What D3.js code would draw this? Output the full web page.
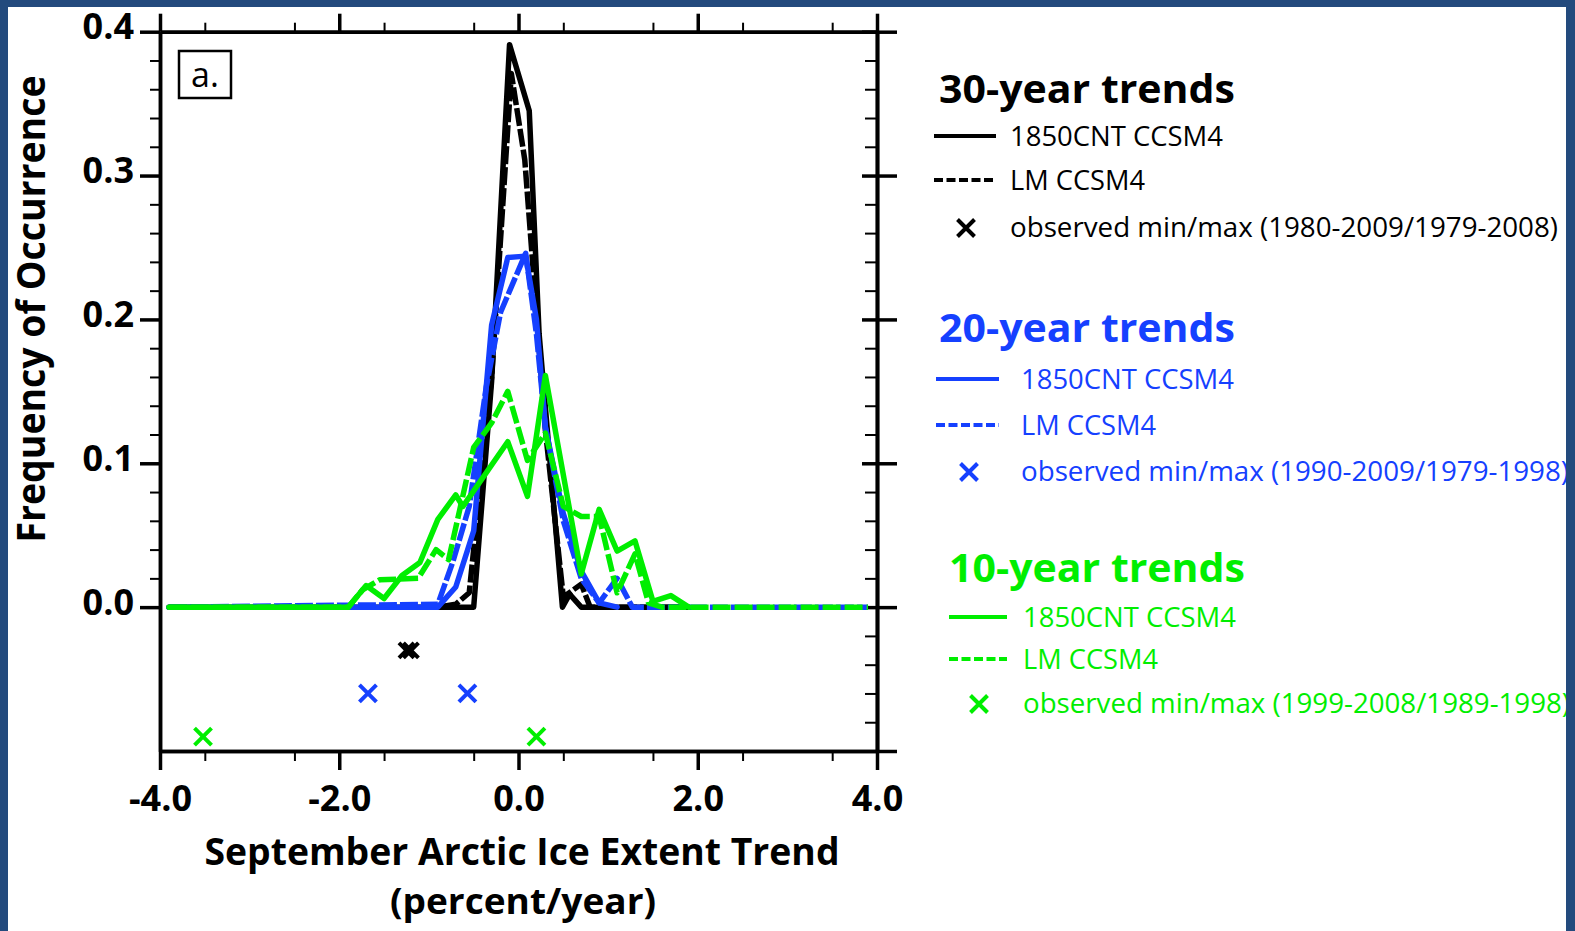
<!DOCTYPE html>
<html>
<head>
<meta charset="utf-8">
<script src="https://cdn.jsdelivr.net/npm/d3@7"></script>
<style>
  html, body { margin: 0; padding: 0; background: #fff; }
  svg { display: block; }
  text { font-family: "Open Sans", "Noto Sans", sans-serif; }
</style>
</head>
<body>
<svg id="chart" width="1575" height="931"></svg>
<script>
// trend (percent/year) and frequency of occurrence
const blackSolidX = [-3.9, -0.5, -0.3, -0.1, 0.12, 0.23, 0.49, 0.57, 0.7, 1.9];
const blackSolidY = [0, 0, 0.157, 0.391, 0.345, 0.19, 0, 0.009, 0, 0];
const blackDashX = [-3.9, -0.9, -0.7, -0.55, -0.3, -0.08, 0.07, 0.3, 0.5, 0.7, 0.8, 1.9];
const blackDashY = [0, 0, 0.002, 0.01, 0.16, 0.371, 0.311, 0.123, 0.007, 0.016, 0, 0];
const blueSolidX = [-3.9, -0.9, -0.7, -0.5, -0.3, -0.12, 0.08, 0.2, 0.3, 0.5, 0.7, 0.9, 1.1];
const blueSolidY = [0, 0, 0.014, 0.053, 0.196, 0.243, 0.244, 0.2, 0.125, 0.065, 0.025, 0.003, 0];
const blueDashX = [-3.9, -0.9, -0.73, -0.55, -0.36, -0.2, 0.08, 0.2, 0.3, 0.5, 0.7, 0.9, 1.1, 1.27, 3.9];
const blueDashY = [0, 0.002, 0.032, 0.07, 0.153, 0.205, 0.246, 0.19, 0.125, 0.06, 0.02, 0.003, 0.02, 0, 0];
const greenSolidX = [-3.9, -1.9, -1.7, -1.5, -1.3, -1.1, -0.9, -0.7, -0.62, -0.12, 0.1, 0.3, 0.7, 0.9, 1.1, 1.3, 1.5, 1.7, 1.9];
const greenSolidY = [0, 0, 0.015, 0.006, 0.022, 0.031, 0.061, 0.078, 0.07, 0.115, 0.077, 0.161, 0.023, 0.068, 0.039, 0.046, 0.004, 0.008, 0];
const greenDashX = [-3.9, -1.9, -1.74, -1.55, -1.12, -0.92, -0.78, -0.5, -0.3, -0.12, 0.1, 0.3, 0.5, 0.7, 0.9, 1.1, 1.3, 1.45, 1.6, 3.9];
const greenDashY = [0, 0, 0.012, 0.019, 0.02, 0.04, 0.033, 0.111, 0.128, 0.15, 0.102, 0.121, 0.07, 0.063, 0.063, 0.01, 0.037, 0.003, 0, 0];

// observed min/max trends, plotted below zero
const obsBlackX = [-1.25, -1.2];
const obsBlueX = [-1.68, -0.57];
const obsGreenX = [-3.52, 0.2];
const obsRowY = [-0.03, -0.06, -0.09];

const xTicks = [-4, -2, 0, 2, 4];
const yTicks = [0, 0.1, 0.2, 0.3, 0.4];

const groupTitles = ["30-year trends", "20-year trends", "10-year trends"];
const groupColors = ["#000000", "#1540ff", "#00ee00"];
const itemLabels = ["1850CNT CCSM4", "LM CCSM4"];
const obsLabels = [
    "observed min/max (1980-2009/1979-2008)",
    "observed min/max (1990-2009/1979-1998)",
    "observed min/max (1999-2008/1989-1998)"
];

const svg = d3.select("#chart");
svg.append("rect").attr("width", 1575).attr("height", 931).attr("fill", "#fff");

const x = d3.scaleLinear().domain([-4, 4]).range([160, 877]);
const y = d3.scaleLinear().domain([-0.1, 0.4]).range([751, 31.7]);

const fmt = d => d.toFixed(1);
const notMajor = v => Math.abs(v * 10 - Math.round(v * 10)) > 1e-6;
const xMinor = d3.range(-3.5, 4, 1);
const yMinorPos = d3.range(1, 20).map(i => i * 0.02).filter(notMajor);
const yMinorAll = d3.range(-4, 20).map(i => i * 0.02).filter(notMajor);

function styleAxis(g, width) {
    g.select(".domain").attr("stroke", "#000").attr("stroke-width", 3.5);
    g.selectAll(".tick line").attr("stroke", "#000").attr("stroke-width", width);
    g.selectAll("text").style("font-size", "36px").style("font-weight", "bold").attr("fill", "#000");
}

// bottom
svg.append("g").attr("transform", "translate(0,751)")
    .call(d3.axisBottom(x).tickValues(xMinor).tickSize(10).tickSizeOuter(0).tickFormat(""))
    .call(g => styleAxis(g, 2));
svg.append("g").attr("transform", "translate(0,751)")
    .call(d3.axisBottom(x).tickValues(xTicks).tickSize(19).tickPadding(15).tickSizeOuter(0).tickFormat(fmt))
    .call(g => styleAxis(g, 3.5));
// top
svg.append("g").attr("transform", "translate(0,31.7)")
    .call(d3.axisTop(x).tickValues(xMinor).tickSize(9).tickSizeOuter(0).tickFormat(""))
    .call(g => styleAxis(g, 2));
svg.append("g").attr("transform", "translate(0,31.7)")
    .call(d3.axisTop(x).tickValues(xTicks).tickSize(18).tickSizeOuter(0).tickFormat(""))
    .call(g => styleAxis(g, 3.5));
// left
svg.append("g").attr("transform", "translate(160,0)")
    .call(d3.axisLeft(y).tickValues(yMinorPos).tickSize(10).tickSizeOuter(0).tickFormat(""))
    .call(g => styleAxis(g, 2));
svg.append("g").attr("transform", "translate(160,0)")
    .call(d3.axisLeft(y).tickValues(yTicks).tickSize(20).tickPadding(6).tickSizeOuter(0).tickFormat(fmt))
    .call(g => styleAxis(g, 3.5))
    .call(g => g.selectAll("text").attr("dy", "0.2em"));
// right
svg.append("g").attr("transform", "translate(877,0)")
    .call(d3.axisRight(y).tickValues(yMinorAll).tickSize(-12).tickSizeOuter(0).tickFormat(""))
    .call(g => styleAxis(g, 2));
svg.append("g").attr("transform", "translate(877,0)")
    .call(d3.axisRight(y).tickValues([-0.1].concat(yTicks)).tickSize(20).tickSizeOuter(0).tickFormat(""))
    .call(g => styleAxis(g, 3.5));
svg.append("g").attr("transform", "translate(877,0)")
    .call(d3.axisRight(y).tickValues(yTicks).tickSize(-15).tickSizeOuter(0).tickFormat(""))
    .call(g => styleAxis(g, 3.5));

// curves
const line = d3.line().x(d => x(d[0])).y(d => y(d[1]));
const curves = [
    { xs: blackSolidX, ys: blackSolidY, color: groupColors[0], dash: null },
    { xs: blackDashX, ys: blackDashY, color: groupColors[0], dash: "18,3" },
    { xs: blueSolidX, ys: blueSolidY, color: groupColors[1], dash: null },
    { xs: blueDashX, ys: blueDashY, color: groupColors[1], dash: "18,3" },
    { xs: greenSolidX, ys: greenSolidY, color: groupColors[2], dash: null },
    { xs: greenDashX, ys: greenDashY, color: groupColors[2], dash: "18,4" }
];
svg.append("g").selectAll("path")
    .data(curves)
    .join("path")
    .attr("d", c => line(d3.zip(c.xs, c.ys)))
    .attr("fill", "none")
    .attr("stroke", c => c.color)
    .attr("stroke-width", 5.5)
    .attr("stroke-linejoin", "round")
    .attr("stroke-linecap", c => c.dash ? "butt" : "round")
    .attr("stroke-dasharray", c => c.dash);

// observed crosses
const cross = s => `M${-s},${-s}L${s},${s}M${-s},${s}L${s},${-s}`;
const obs = [obsBlackX, obsBlueX, obsGreenX].flatMap((xs, i) =>
    xs.map(v => ({ x: v, y: obsRowY[i], color: groupColors[i], size: i === 0 ? 7.5 : 8.5 })));
svg.append("g").selectAll("path")
    .data(obs)
    .join("path")
    .attr("transform", d => `translate(${x(d.x)},${y(d.y)})`)
    .attr("d", d => cross(d.size))
    .attr("stroke", d => d.color)
    .attr("stroke-width", 4)
    .attr("fill", "none");

// panel label
svg.append("rect").attr("x", 179).attr("y", 51).attr("width", 52).attr("height", 47)
    .attr("fill", "none").attr("stroke", "#000").attr("stroke-width", 2.5);
svg.append("text").attr("x", 205).attr("y", 87).attr("text-anchor", "middle")
    .style("font-size", "34px").text("a.");

// axis titles
svg.append("text")
    .attr("transform", "translate(45,309) rotate(-90)")
    .attr("text-anchor", "middle")
    .attr("textLength", 467).attr("lengthAdjust", "spacingAndGlyphs")
    .style("font-size", "40px").style("font-weight", "bold")
    .text("Frequency of Occurrence");
svg.append("text").attr("x", 522).attr("y", 865).attr("text-anchor", "middle")
    .attr("textLength", 635).attr("lengthAdjust", "spacingAndGlyphs")
    .style("font-size", "37px").style("font-weight", "bold")
    .text("September Arctic Ice Extent Trend");
svg.append("text").attr("x", 523).attr("y", 914).attr("text-anchor", "middle")
    .attr("textLength", 266).attr("lengthAdjust", "spacingAndGlyphs")
    .style("font-size", "36px").style("font-weight", "bold")
    .text("(percent/year)");

// legend
const legendPos = [
    { hx: 939, hy: 103, s0: 934, s1: 996, tx: 1010, rows: [136, 180, 228], obsX: 966, obsEnd: 1558 },
    { hx: 939, hy: 342, s0: 936, s1: 999, tx: 1021, rows: [379, 425, 472], obsX: 969, obsEnd: 1569 },
    { hx: 949, hy: 582, s0: 949, s1: 1007, tx: 1023, rows: [617, 659, 704], obsX: 979, obsEnd: 1570 }
];
const lg = svg.append("g");
legendPos.forEach((p, i) => {
    const c = groupColors[i];
    lg.append("text").attr("x", p.hx).attr("y", p.hy).attr("fill", c)
        .attr("textLength", 296).attr("lengthAdjust", "spacingAndGlyphs")
        .style("font-size", "39px").style("font-weight", "bold")
        .text(groupTitles[i]);
    itemLabels.forEach((lab, j) => {
        lg.append("line").attr("x1", p.s0).attr("x2", p.s1)
            .attr("y1", p.rows[j]).attr("y2", p.rows[j])
            .attr("stroke", c).attr("stroke-width", 4)
            .attr("stroke-dasharray", j === 1 ? "9,3.5" : null);
        lg.append("text").attr("x", p.tx).attr("y", p.rows[j] + 9.5).attr("fill", c)
            .attr("textLength", j === 0 ? 213 : 135).attr("lengthAdjust", "spacingAndGlyphs")
            .style("font-size", "27px")
            .text(lab);
    });
    lg.append("path").attr("transform", `translate(${p.obsX},${p.rows[2]})`)
        .attr("d", cross(8.5)).attr("stroke", c).attr("stroke-width", 4).attr("fill", "none");
    lg.append("text").attr("x", p.tx).attr("y", p.rows[2] + 8.5).attr("fill", c)
        .attr("textLength", p.obsEnd - p.tx).attr("lengthAdjust", "spacingAndGlyphs")
        .style("font-size", "27px")
        .text(obsLabels[i]);
});

// dark blue frame
const frame = "#234a7d";
svg.append("rect").attr("x", 0).attr("y", 0).attr("width", 8).attr("height", 931).attr("fill", frame);
svg.append("rect").attr("x", 0).attr("y", 0).attr("width", 1575).attr("height", 7).attr("fill", frame);
svg.append("rect").attr("x", 1566).attr("y", 0).attr("width", 9).attr("height", 931).attr("fill", frame);
</script>
</body>
</html>
